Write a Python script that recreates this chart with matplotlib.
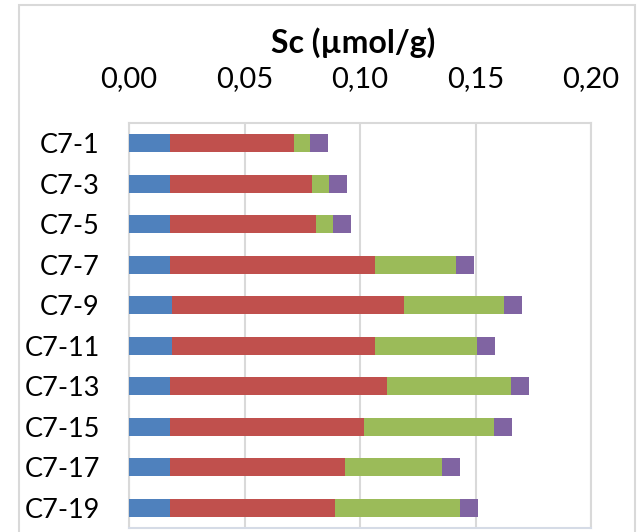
#!/usr/bin/env python3
"""Stacked horizontal bars of Sc (umol/g) per sample, axis on top."""

import numpy as np
import matplotlib
matplotlib.use('Agg')
import matplotlib.pyplot as plt
from matplotlib.patches import Rectangle

plt.rcParams['font.family'] = ['Lato', 'DejaVu Sans']

# .:: DATA ::.
samples = ['C7-1', 'C7-3', 'C7-5', 'C7-7', 'C7-9',
           'C7-11', 'C7-13', 'C7-15', 'C7-17', 'C7-19']
part_blue = [0.0178, 0.0178, 0.0178, 0.0178, 0.0186,
             0.0186, 0.0178, 0.0178, 0.0178, 0.0178]
part_red = [0.0536, 0.0614, 0.0631, 0.0887, 0.1004,
            0.0879, 0.0939, 0.0839, 0.0757, 0.0714]
part_green = [0.0069, 0.0073, 0.0073, 0.0351, 0.0433,
              0.0442, 0.0537, 0.0562, 0.0420, 0.0541]
part_purple = [0.0078, 0.0078, 0.0078, 0.0078, 0.0078,
               0.0078, 0.0078, 0.0078, 0.0078, 0.0078]

x_ticks = [0.00, 0.05, 0.10, 0.15, 0.20]
x_tick_labels = ['0,00', '0,05', '0,10', '0,15', '0,20']
title = 'Sc (µmol/g)'

colors = ['#4F81BD', '#C0504D', '#9BBB59', '#8064A2']
grid_color = '#D9D9D9'

fig = plt.figure(figsize=(6.38, 5.32), dpi=100)
ax = fig.add_axes([129 / 638, 1 - 528 / 532, 462 / 638, 405 / 532])

# outer chart border
fig.patches.append(Rectangle((19 / 638, -0.05), 616 / 638, 1 - 5 / 532 + 0.05,
                             transform=fig.transFigure, fill=False,
                             edgecolor=grid_color, linewidth=1.5))

y = np.arange(len(samples))
left = np.zeros(len(samples))
for values, color in zip([part_blue, part_red, part_green, part_purple], colors):
    ax.barh(y, values, left=left, height=0.44, color=color, zorder=3)
    left = left + np.array(values)

ax.set_xlim(0, 0.20)
ax.set_ylim(len(samples) - 0.5, -0.5)
ax.set_yticks(y)
ax.set_yticklabels(samples)
ax.set_xticks(x_ticks)
ax.set_xticklabels(x_tick_labels)
ax.xaxis.tick_top()
ax.tick_params(axis='x', length=0, pad=22, labelsize=21)
ax.tick_params(axis='y', length=0, pad=21, labelsize=19.5)

ax.grid(axis='x', color=grid_color, linewidth=1.5, zorder=0)
for side in ['top', 'right', 'left']:
    ax.spines[side].set_color(grid_color)
    ax.spines[side].set_linewidth(1.5)
ax.spines['bottom'].set_color('#D5DBE6')
ax.spines['bottom'].set_linewidth(1.5)

fig.text(353 / 638, 1 - 53 / 532, title, ha='center', va='baseline',
         fontsize=23, fontweight='bold')

fig.savefig('out.png', dpi=100)
